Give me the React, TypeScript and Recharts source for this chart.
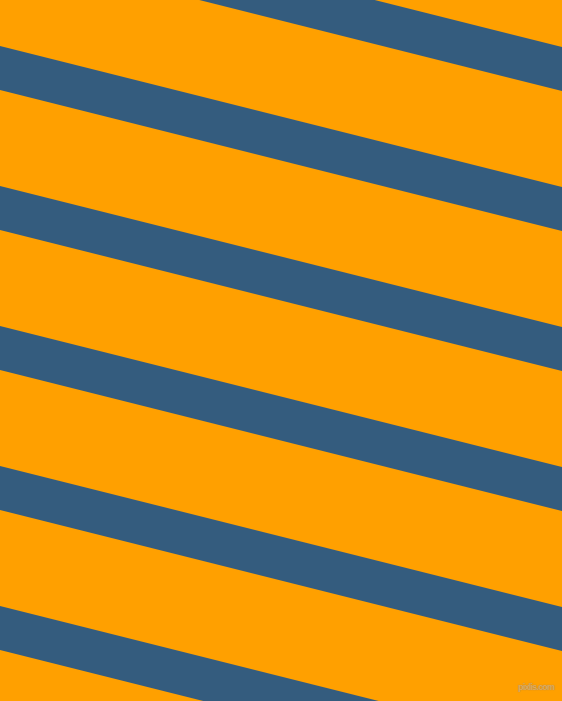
import { Area, ComposedChart, XAxis, YAxis } from "recharts";

// stripe edges (image y, px) where each band meets the left and right borders
const leftTop = [-94, 46, 186, 326, 466, 606];
const leftBottom = [-50, 90, 230, 370, 510, 650];
const rightTop = [47, 187, 327, 467, 607, 747];
const rightBottom = [91, 231, 371, 511, 651, 791];
const xEnds = [0, 562];

const stripes = leftTop.map((_, i) => [
  { x: xEnds[0], band: [leftTop[i], leftBottom[i]] },
  { x: xEnds[1], band: [rightTop[i], rightBottom[i]] },
]);

export default function App() {
  return (
    <div style={{ position: "absolute", left: 0, top: 0, width: 562, height: 701, background: "#ffa000", overflow: "hidden" }}>
      <ComposedChart width={562} height={701} margin={{ top: 0, right: 0, bottom: 0, left: 0 }}>
        <XAxis type="number" dataKey="x" domain={[0, 562]} hide allowDataOverflow />
        <YAxis type="number" domain={[0, 701]} reversed hide allowDataOverflow />
        {stripes.map((d, i) => (
          <Area
            key={i}
            data={d}
            dataKey="band"
            type="linear"
            stroke="none"
            fill="#345c7e"
            fillOpacity={1}
            dot={false}
            activeDot={false}
            isAnimationActive={false}
          />
        ))}
      </ComposedChart>
      <div
        style={{
          position: "absolute",
          left: 518,
          top: 683,
          fontFamily: "Liberation Sans",
          fontSize: 9,
          lineHeight: 1,
          fontWeight: "bold",
          letterSpacing: -0.8,
          color: "#e2ad5c",
          textShadow: "0 0 1px #8a7a60",
          whiteSpace: "nowrap",
        }}
      >
        pixlis.com
      </div>
    </div>
  );
}
